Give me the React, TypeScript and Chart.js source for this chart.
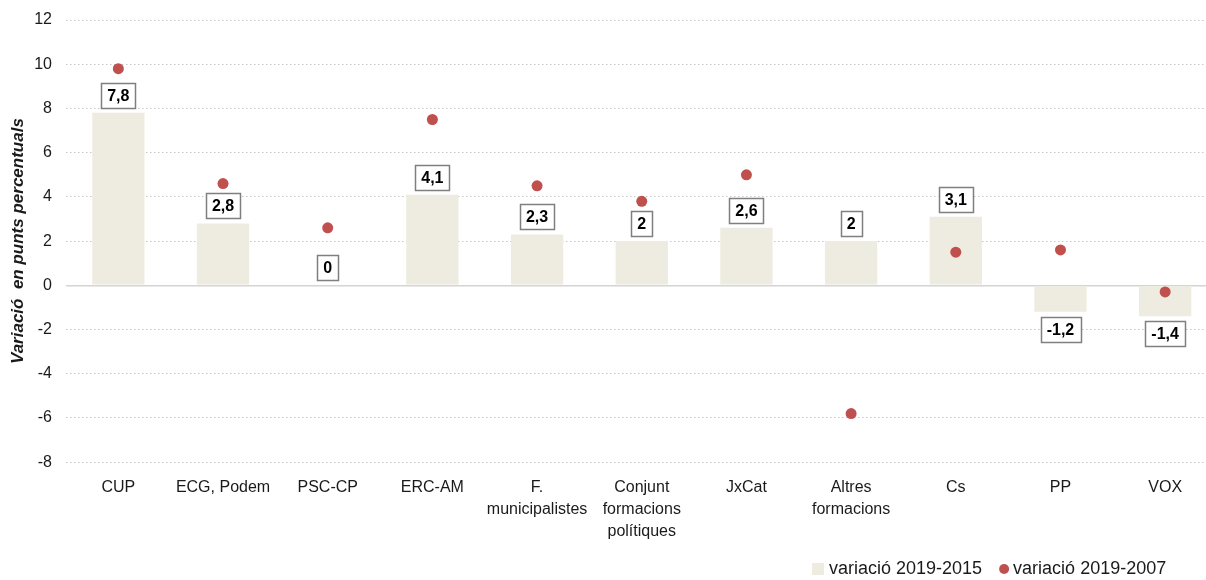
import React, { useEffect, useRef } from "react";
import { Chart, registerables } from "chart.js";

Chart.register(...registerables);

const categories: (string | string[])[] = [
  "CUP",
  "ECG, Podem",
  "PSC-CP",
  "ERC-AM",
  ["F.", "municipalistes"],
  ["Conjunt", "formacions", "polítiques"],
  "JxCat",
  ["Altres", "formacions"],
  "Cs",
  "PP",
  "VOX",
];
const variacio2015: number[] = [7.8, 2.8, 0, 4.1, 2.3, 2, 2.6, 2, 3.1, -1.2, -1.4];
const variacio2007: number[] = [9.8, 4.6, 2.6, 7.5, 4.5, 3.8, 5.0, -5.8, 1.5, 1.6, -0.3];
const seriesLabels: string[] = ["variació 2019-2015", "variació 2019-2007"];
const yTitle = "Variació  en punts percentuals";

const FONT = "'Liberation Sans Narrow', 'Arial Narrow', 'Liberation Sans', Arial, sans-serif";
const BAR_COLOR = "#eeece1";
const DOT_COLOR = "#c0504d";

const fmt = (v: number) => String(v).replace(".", ",");

const labelPlugin = {
  id: "boxLabels",
  afterDatasetsDraw(chart: any) {
    const ctx = chart.ctx;
    const meta = chart.getDatasetMeta(0);
    const data = chart.data.datasets[0].data as number[];
    ctx.save();
    ctx.font = `bold 16px ${FONT}`;
    ctx.textAlign = "center";
    ctx.textBaseline = "middle";
    meta.data.forEach((bar: any, i: number) => {
      const v = data[i];
      const text = fmt(v);
      const w = ctx.measureText(text).width + 12;
      const h = 25;
      const x = bar.x;
      let top: number;
      if (v >= 0) {
        top = Math.min(bar.y, bar.base) - 5 - h;
      } else {
        top = Math.max(bar.y, bar.base) + 5;
      }
      ctx.fillStyle = "#ffffff";
      ctx.fillRect(x - w / 2, top, w, h);
      ctx.strokeStyle = "#7f7f7f";
      ctx.lineWidth = 1.5;
      ctx.strokeRect(Math.round(x - w / 2) + 0.5, Math.round(top) + 0.5, Math.round(w), h);
      ctx.fillStyle = "#000000";
      ctx.fillText(text, x, top + h / 2 + 1);
    });
    ctx.restore();
  },
};

const legendPlugin = {
  id: "customLegend",
  afterDraw(chart: any) {
    const ctx = chart.ctx;
    const ds = chart.data.datasets;
    ctx.save();
    ctx.font = `18px ${FONT}`;
    ctx.textBaseline = "middle";
    ctx.textAlign = "left";
    const cy = 569;
    let x = 812;
    ctx.fillStyle = ds[0].backgroundColor;
    ctx.fillRect(x, cy - 6, 12, 12);
    x += 17;
    ctx.fillStyle = "#1a1a1a";
    ctx.fillText(ds[0].label, x, cy);
    x += ctx.measureText(ds[0].label).width + 17;
    ctx.fillStyle = ds[1].pointBackgroundColor;
    ctx.beginPath();
    ctx.arc(x + 5, cy, 5, 0, Math.PI * 2);
    ctx.fill();
    x += 14;
    ctx.fillStyle = "#1a1a1a";
    ctx.fillText(ds[1].label, x, cy);
    ctx.restore();
  },
};

export default function App() {
  const ref = useRef<HTMLCanvasElement | null>(null);
  useEffect(() => {
    if (!ref.current) return;
    const chart = new Chart(ref.current, {
      type: "bar",
      data: {
        labels: categories,
        datasets: [
          {
            type: "bar",
            label: seriesLabels[0],
            data: variacio2015,
            backgroundColor: BAR_COLOR,
            categoryPercentage: 1,
            barPercentage: 0.5,
            order: 2,
          },
          {
            type: "line",
            label: seriesLabels[1],
            data: variacio2007,
            showLine: false,
            pointRadius: 5.5,
            pointBackgroundColor: DOT_COLOR,
            pointBorderColor: DOT_COLOR,
            pointBorderWidth: 0,
            borderColor: DOT_COLOR,
            backgroundColor: DOT_COLOR,
            order: 1,
          } as any,
        ],
      },
      options: {
        animation: false,
        responsive: false,
        maintainAspectRatio: false,
        layout: { padding: { top: 20, right: 3, bottom: 31, left: 0 } },
        plugins: {
          legend: { display: false },
          tooltip: { enabled: false },
        },
        scales: {
          x: {
            grid: { display: false },
            border: { display: false },
            ticks: {
              color: "#1a1a1a",
              font: { family: FONT, size: 16, lineHeight: 1.35 },
              padding: 7,
              maxRotation: 0,
              autoSkip: false,
            },
          },
          y: {
            min: -8,
            max: 12,
            afterFit(scale: any) {
              scale.width = 66;
              scale.paddingTop = 0;
              scale.paddingBottom = 0;
            },
            ticks: {
              stepSize: 2,
              color: "#1a1a1a",
              font: { family: FONT, size: 16 },
              padding: 14,
            },
            grid: {
              drawTicks: false,
              color: (c: any) => (c.tick && c.tick.value === 0 ? "#d4d4d4" : "#c6c6c6"),
              lineWidth: (c: any) => (c.tick && c.tick.value === 0 ? 1.5 : 1),
            },
            border: {
              display: false,
              dash: (c: any) => (c.tick && c.tick.value === 0 ? [] : [1.5, 2.5]),
            } as any,
            title: {
              display: true,
              text: yTitle,
              color: "#1a1a1a",
              font: { family: FONT, size: 17, weight: "bold", style: "italic" },
              padding: { top: 8, bottom: 4 },
            },
          },
        },
      },
      plugins: [labelPlugin, legendPlugin],
    });
    return () => chart.destroy();
  }, []);
  return (
    <div
      style={{
        position: "fixed",
        left: 0,
        top: 0,
        width: 1206,
        height: 580,
        overflow: "hidden",
        background: "#ffffff",
      }}
    >
      <canvas ref={ref} width={1223} height={580} style={{ display: "block" }} />
    </div>
  );
}
